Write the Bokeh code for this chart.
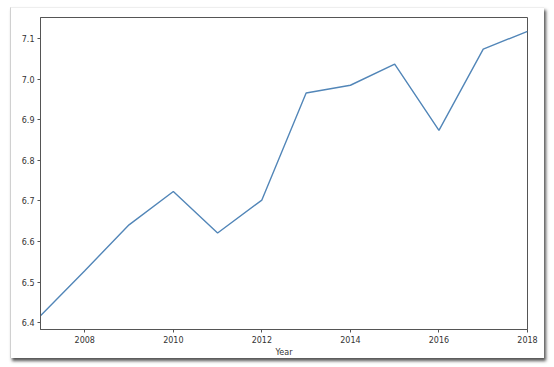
from bokeh.plotting import figure
from bokeh.models import FixedTicker, PrintfTickFormatter, Range1d
from bokeh.embed import file_html
from bokeh.resources import INLINE

years = [2007, 2008, 2009, 2010, 2011, 2012, 2013, 2014, 2015, 2016, 2017, 2018]
values = [6.417, 6.528, 6.641, 6.723, 6.621, 6.702, 6.966, 6.985, 7.037, 6.874, 7.074, 7.118]
x_ticks = [2008, 2010, 2012, 2014, 2016, 2018]
y_ticks = [6.4, 6.5, 6.6, 6.7, 6.8, 6.9, 7.0, 7.1]

p = figure(width=534, height=351, output_backend="svg", toolbar_location=None,
           x_range=Range1d(2007, 2018), y_range=Range1d(6.383, 7.152),
           min_border_left=29, min_border_right=18, min_border_top=9, min_border_bottom=29)
p.styles = {"margin-left": "10px", "margin-top": "7px",
            "border-left": "1px solid #d0d0d0", "border-top": "1px solid #eeeeee",
            "box-shadow": "2px 3px 3px #555555"}
p.line(years, values, line_color="#5286b8", line_width=1.4)

p.grid.visible = False
p.outline_line_color = "#555555"
p.outline_line_width = 1
p.background_fill_color = "white"
p.border_fill_color = "white"

for ax in (p.xaxis[0], p.yaxis[0]):
    ax.axis_line_color = "#555555"
    ax.major_tick_line_color = "#555555"
    ax.minor_tick_line_color = None
    ax.major_tick_in = 0
    ax.major_tick_out = 3
    ax.major_label_text_font = "DejaVu Sans"
    ax.major_label_text_font_size = "8px"
    ax.major_label_text_color = "#333333"
    ax.major_label_standoff = 3

p.xaxis[0].ticker = FixedTicker(ticks=x_ticks)
p.xaxis[0].formatter = PrintfTickFormatter(format="%d")
p.xaxis[0].axis_label = "Year"
p.xaxis[0].axis_label_text_font = "DejaVu Sans"
p.xaxis[0].axis_label_text_font_size = "8px"
p.xaxis[0].axis_label_text_font_style = "normal"
p.xaxis[0].axis_label_text_color = "#333333"
p.xaxis[0].axis_label_standoff = 2

p.yaxis[0].ticker = FixedTicker(ticks=y_ticks)
p.yaxis[0].formatter = PrintfTickFormatter(format="%.1f")

open("out.html", "w").write(file_html(p, INLINE))
